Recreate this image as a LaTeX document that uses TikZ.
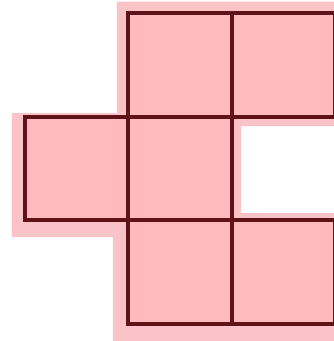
\documentclass[tikz,border=0pt]{standalone}
\usetikzlibrary{positioning}
\definecolor{cellpink}{RGB}{255,186,190}
\definecolor{halopink}{RGB}{250,195,199}
\definecolor{gridline}{RGB}{95,18,24}
\begin{document}
\begin{tikzpicture}[node distance=0pt,
    cell/.style={draw=gridline, fill=cellpink, line width=4pt, rectangle,
      minimum size=103.5pt, inner sep=0pt, outer sep=0pt}]
    \coordinate (o) at (0,0);
    % right column runs off the edge
    \useasboundingbox ([shift={(-180pt,-172.5pt)}]o)
      rectangle ([shift={(153pt,168.5pt)}]o);

    % halo behind the shape
    \fill[halopink]
      ([shift={(-63pt,167pt)}]o) -- ([shift={(160pt,167pt)}]o)
      -- ([shift={(160pt,42.5pt)}]o) -- ([shift={(61pt,42.5pt)}]o)
      -- ([shift={(61pt,-44.5pt)}]o) -- ([shift={(160pt,-44.5pt)}]o)
      -- ([shift={(160pt,-175pt)}]o) -- ([shift={(-67pt,-175pt)}]o)
      -- ([shift={(-67pt,-68.5pt)}]o) -- ([shift={(-168pt,-68.5pt)}]o)
      -- ([shift={(-168pt,55.5pt)}]o) -- ([shift={(-63pt,55.5pt)}]o) -- cycle;

    \node[cell] (mm) at (o) {};
    \node[cell, left=of mm] (ml) {};
    \node[cell, above=of mm] (tl) {};
    \node[cell, right=of tl] (tr) {};
    \node[cell, below=of mm] (bl) {};
    \node[cell, right=of bl] (br) {};
\end{tikzpicture}
\end{document}
